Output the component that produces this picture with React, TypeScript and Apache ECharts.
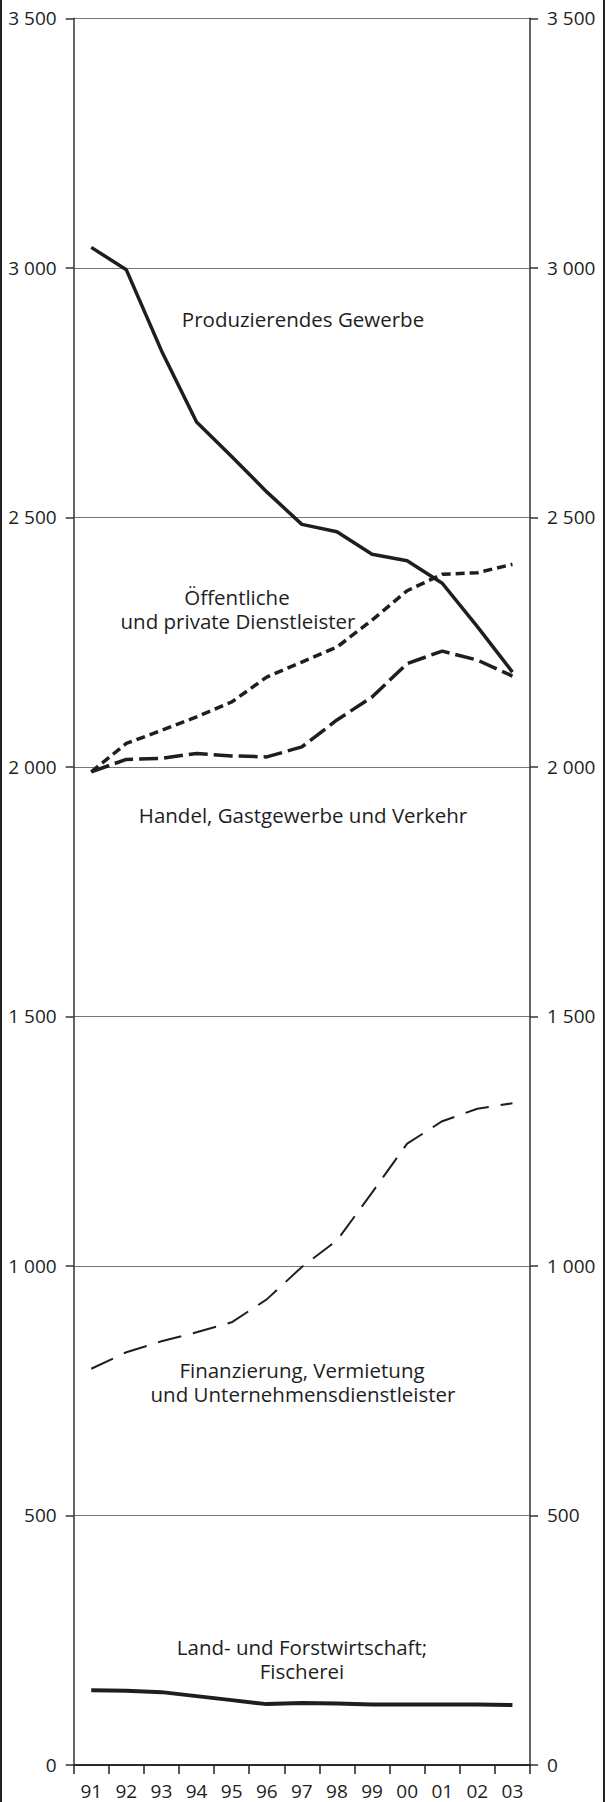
import React, { useEffect, useRef } from "react";
import * as echarts from "echarts";

const years = ["91", "92", "93", "94", "95", "96", "97", "98", "99", "00", "01", "02", "03"];
const produzierendes = [3041, 2996, 2834, 2691, 2622, 2551, 2486, 2471, 2426, 2413, 2368, 2281, 2190];
const oeffentliche = [1990, 2047, 2073, 2100, 2130, 2180, 2210, 2240, 2294, 2353, 2386, 2389, 2406];
const handel = [1990, 2015, 2017, 2027, 2022, 2020, 2040, 2094, 2140, 2207, 2232, 2214, 2182];
const finanzierung = [794, 827, 849, 867, 887, 933, 998, 1051, 1147, 1245, 1290, 1315, 1326];
const landwirtschaft = [150, 149, 146, 138, 130, 122, 124, 123, 121, 121, 121, 121, 120];

const FONT = "'Open Sans', 'Noto Sans', sans-serif";
const INK = "#1e1e1e";

function fmt(v: number): string {
  if (v >= 1000) {
    return Math.floor(v / 1000) + " " + String(v % 1000).padStart(3, "0");
  }
  return String(v);
}

export default function App() {
  const ref = useRef<HTMLDivElement>(null);
  useEffect(() => {
    if (!ref.current) return;
    const chart = echarts.init(ref.current, undefined, { renderer: "svg" });
    const yAxisBase = {
      type: "value" as const,
      min: 0,
      max: 3500,
      interval: 500,
      axisLine: { show: true, lineStyle: { color: "#333", width: 1.5 } },
      axisTick: { show: true, length: 8, lineStyle: { color: "#333", width: 1.5 } },
      axisLabel: {
        margin: 17,
        fontSize: 19,
        fontFamily: FONT,
        color: INK,
        formatter: (v: number) => fmt(v),
      },
    };
    const ann = (x: number, y: number, text: string) => ({
      type: "text",
      x,
      y,
      style: {
        text,
        fontSize: 20.5,
        fontFamily: FONT,
        fill: INK,
        align: "center",
        verticalAlign: "middle",
      },
    });
    chart.setOption({
      animation: false,
      grid: { left: 73.7, right: 75, top: 18.3, bottom: 37 },
      xAxis: [
        {
          type: "category",
          data: years,
          boundaryGap: true,
          axisLine: { show: true, lineStyle: { color: "#222", width: 1.5 } },
          axisTick: { show: true, length: 9, lineStyle: { color: "#222", width: 1.5 } },
          axisLabel: { margin: 16, fontSize: 19, fontFamily: FONT, color: INK },
        },
        {
          type: "category",
          data: years,
          position: "top",
          axisLine: { show: true, lineStyle: { color: "#222", width: 1.5 } },
          axisTick: { show: false },
          axisLabel: { show: false },
        },
      ],
      yAxis: [
        {
          ...yAxisBase,
          position: "left",
          splitLine: { show: true, lineStyle: { color: "#777", width: 1 } },
        },
        {
          ...yAxisBase,
          position: "right",
          splitLine: { show: false },
        },
      ],
      series: [
        {
          name: "Produzierendes Gewerbe",
          type: "line",
          data: produzierendes,
          symbol: "none",
          lineStyle: { color: INK, width: 3.5, type: "solid" },
        },
        {
          name: "Öffentliche und private Dienstleister",
          type: "line",
          data: oeffentliche,
          symbol: "none",
          lineStyle: { color: INK, width: 3.5, type: [9, 5] },
        },
        {
          name: "Handel, Gastgewerbe und Verkehr",
          type: "line",
          data: handel,
          symbol: "none",
          lineStyle: { color: INK, width: 3.5, type: [19, 6] },
        },
        {
          name: "Finanzierung, Vermietung und Unternehmensdienstleister",
          type: "line",
          data: finanzierung,
          symbol: "none",
          lineStyle: { color: INK, width: 2, type: [24, 12] },
        },
        {
          name: "Land- und Forstwirtschaft; Fischerei",
          type: "line",
          data: landwirtschaft,
          symbol: "none",
          lineStyle: { color: INK, width: 4, type: "solid" },
        },
      ],
      graphic: [
        { type: "rect", shape: { x: 0, y: 0, width: 2, height: 1802 }, style: { fill: "#222" } },
        { type: "rect", shape: { x: 603, y: 0, width: 2, height: 1802 }, style: { fill: "#222" } },
        ann(303, 319, "Produzierendes Gewerbe"),
        ann(237, 597, "Öffentliche"),
        ann(238, 621, "und private Dienstleister"),
        ann(303, 815, "Handel, Gastgewerbe und Verkehr"),
        ann(302, 1369.5, "Finanzierung, Vermietung"),
        ann(303, 1393.5, "und Unternehmensdienstleister"),
        ann(302, 1646.5, "Land- und Forstwirtschaft;"),
        ann(302, 1670.5, "Fischerei"),
      ],
    });
    return () => chart.dispose();
  }, []);
  return (
    <div
      ref={ref}
      style={{ position: "absolute", left: 0, top: 0, width: 605, height: 1802, background: "#fff" }}
    />
  );
}
